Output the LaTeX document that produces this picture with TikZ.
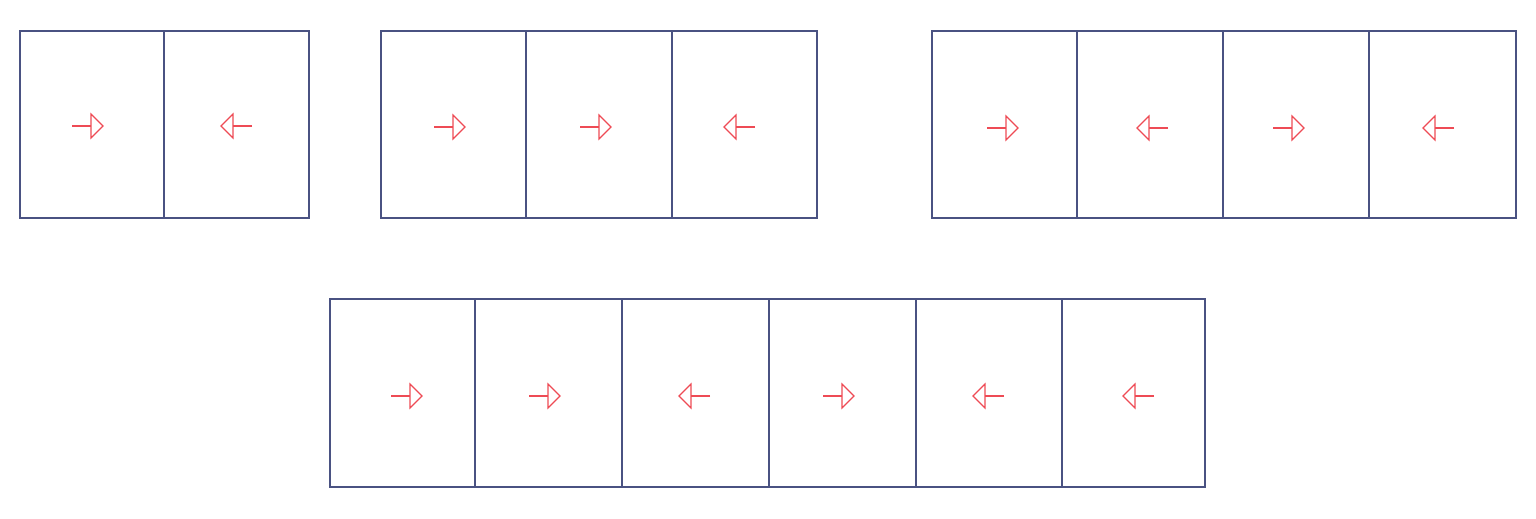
\documentclass[tikz,border=0pt]{standalone}
\usetikzlibrary{calc}
\begin{document}
\begin{tikzpicture}[x=1pt,y=-1pt,
  cell/.style={draw=boxc,line width=1.1pt,inner sep=0pt},
  arr/.style={draw=arrc,line width=1.1pt}]
\definecolor{boxc}{HTML}{4A5282}
\definecolor{arrc}{HTML}{EE4B55}
\useasboundingbox (0,0) rectangle (1536,519);
% #7 arrow base x, #8 arrow y
\newcommand{\mycell}[8]{%
  \node[cell,minimum width={#2-#1},minimum height={#4-#3}] (#6) at ({(#1+#2)/2},{(#3+#4)/2}) {};
  \coordinate (#6b) at (#7,#8);
  \draw[arr] ($(#6b)+(-19*#5,0)$) -- (#6b);
  \draw[arr] ($(#6b)+(0,-12)$) -- ($(#6b)+(12*#5,0)$) -- ($(#6b)+(0,12)$) -- cycle;}
\mycell{20}{164}{31}{218}{1}{a1}{91}{126}
\mycell{164}{309}{31}{218}{-1}{a2}{233}{126}
\mycell{381}{526}{31}{218}{1}{b1}{453}{127}
\mycell{526}{672}{31}{218}{1}{b2}{599}{127}
\mycell{672}{817}{31}{218}{-1}{b3}{736}{127}
\mycell{932}{1077}{31}{218}{1}{c1}{1006}{128}
\mycell{1077}{1223}{31}{218}{-1}{c2}{1149}{128}
\mycell{1223}{1369}{31}{218}{1}{c3}{1292}{128}
\mycell{1369}{1516}{31}{218}{-1}{c4}{1435}{128}
\mycell{330}{475}{299}{487}{1}{d1}{410}{396}
\mycell{475}{622}{299}{487}{1}{d2}{548}{396}
\mycell{622}{769}{299}{487}{-1}{d3}{691}{396}
\mycell{769}{916}{299}{487}{1}{d4}{842}{396}
\mycell{916}{1062}{299}{487}{-1}{d5}{985}{396}
\mycell{1062}{1205}{299}{487}{-1}{d6}{1135}{396}
\end{tikzpicture}
\end{document}
